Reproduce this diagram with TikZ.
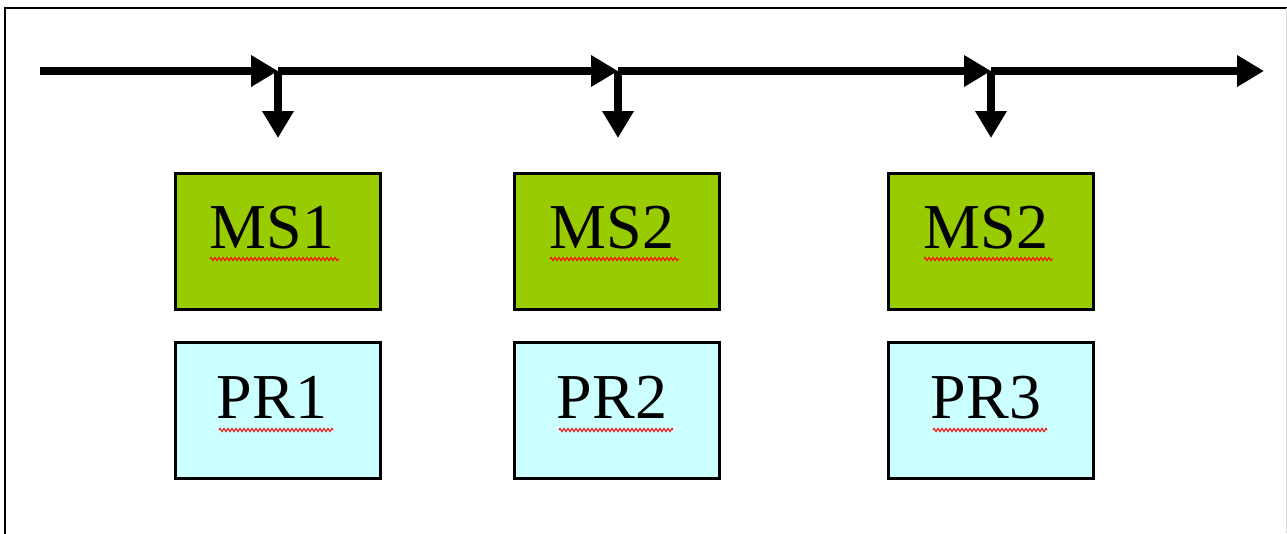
\documentclass[tikz,border=0pt]{standalone}
\usepackage{fontspec}
\setmainfont{Liberation Serif}
\usetikzlibrary{arrows.meta,decorations.pathmorphing}
\definecolor{msgreen}{HTML}{99CC00}
\definecolor{prcyan}{HTML}{CCFFFF}
\tikzset{
  flow/.style={line width=7.5pt, -{Triangle[length=27pt,width=30pt]}},
  msbox/.style={draw=black, line width=3pt, fill=msgreen, minimum width=205pt, minimum height=136pt, inner sep=0pt},
  prbox/.style={draw=black, line width=3pt, fill=prcyan, minimum width=205pt, minimum height=136pt, inner sep=0pt},
  lbl/.style={anchor=base, inner sep=0pt, font=\fontsize{64}{76}\selectfont},
  squig/.style={draw=red, line width=1pt, decorate, decoration={zigzag, segment length=4pt, amplitude=1.6pt}}
}
\begin{document}
\begin{tikzpicture}[x=1pt,y=-1pt]
\useasboundingbox (0,0) rectangle (1287,533);
\fill[white] (0,0) rectangle (1287,533);
% frame
\draw[line width=2.5pt, black] (5,540) -- (5,8) -- (1287,8);
\draw[line width=1pt, black!15] (1286,8) -- (1286,533);
% timeline coordinates
\coordinate (s0) at (40,71);
\coordinate (j1) at (278,71);
\coordinate (j2) at (618,71);
\coordinate (j3) at (991,71);
\coordinate (e) at (1264,71);
\coordinate (d1) at (278,138);
\coordinate (d2) at (618,138);
\coordinate (d3) at (991,138);
\draw[flow] (s0) -- (j1);
\draw[flow] (j1) -- (j2);
\draw[flow] (j2) -- (j3);
\draw[flow] (j3) -- (e);
\draw[flow] (j1) -- (d1);
\draw[flow] (j2) -- (d2);
\draw[flow] (j3) -- (d3);
% boxes
\node[msbox] (ms1) at (277.5,241) {};
\node[msbox] (ms2) at (617,241) {};
\node[msbox] (ms3) at (991,241) {};
\node[prbox] (pr1) at (277.5,410.5) {};
\node[prbox] (pr2) at (617,410.5) {};
\node[prbox] (pr3) at (991,410.5) {};
% labels
\node[lbl] (t1) at (272,248) {MS1};
\node[lbl] (t2) at (612,248) {MS2};
\node[lbl] (t3) at (986,248) {MS2};
\node[lbl] (t4) at (272,418) {PR1};
\node[lbl] (t5) at (612,418) {PR2};
\node[lbl] (t6) at (986,418) {PR3};
% spell-check squiggles
\draw[squig] (210,259) -- (339,259);
\draw[squig] (550,259) -- (679,259);
\draw[squig] (924,259) -- (1053,259);
\draw[squig] (219,430) -- (333,430);
\draw[squig] (559,430) -- (673,430);
\draw[squig] (933,430) -- (1047,430);
\end{tikzpicture}
\end{document}
